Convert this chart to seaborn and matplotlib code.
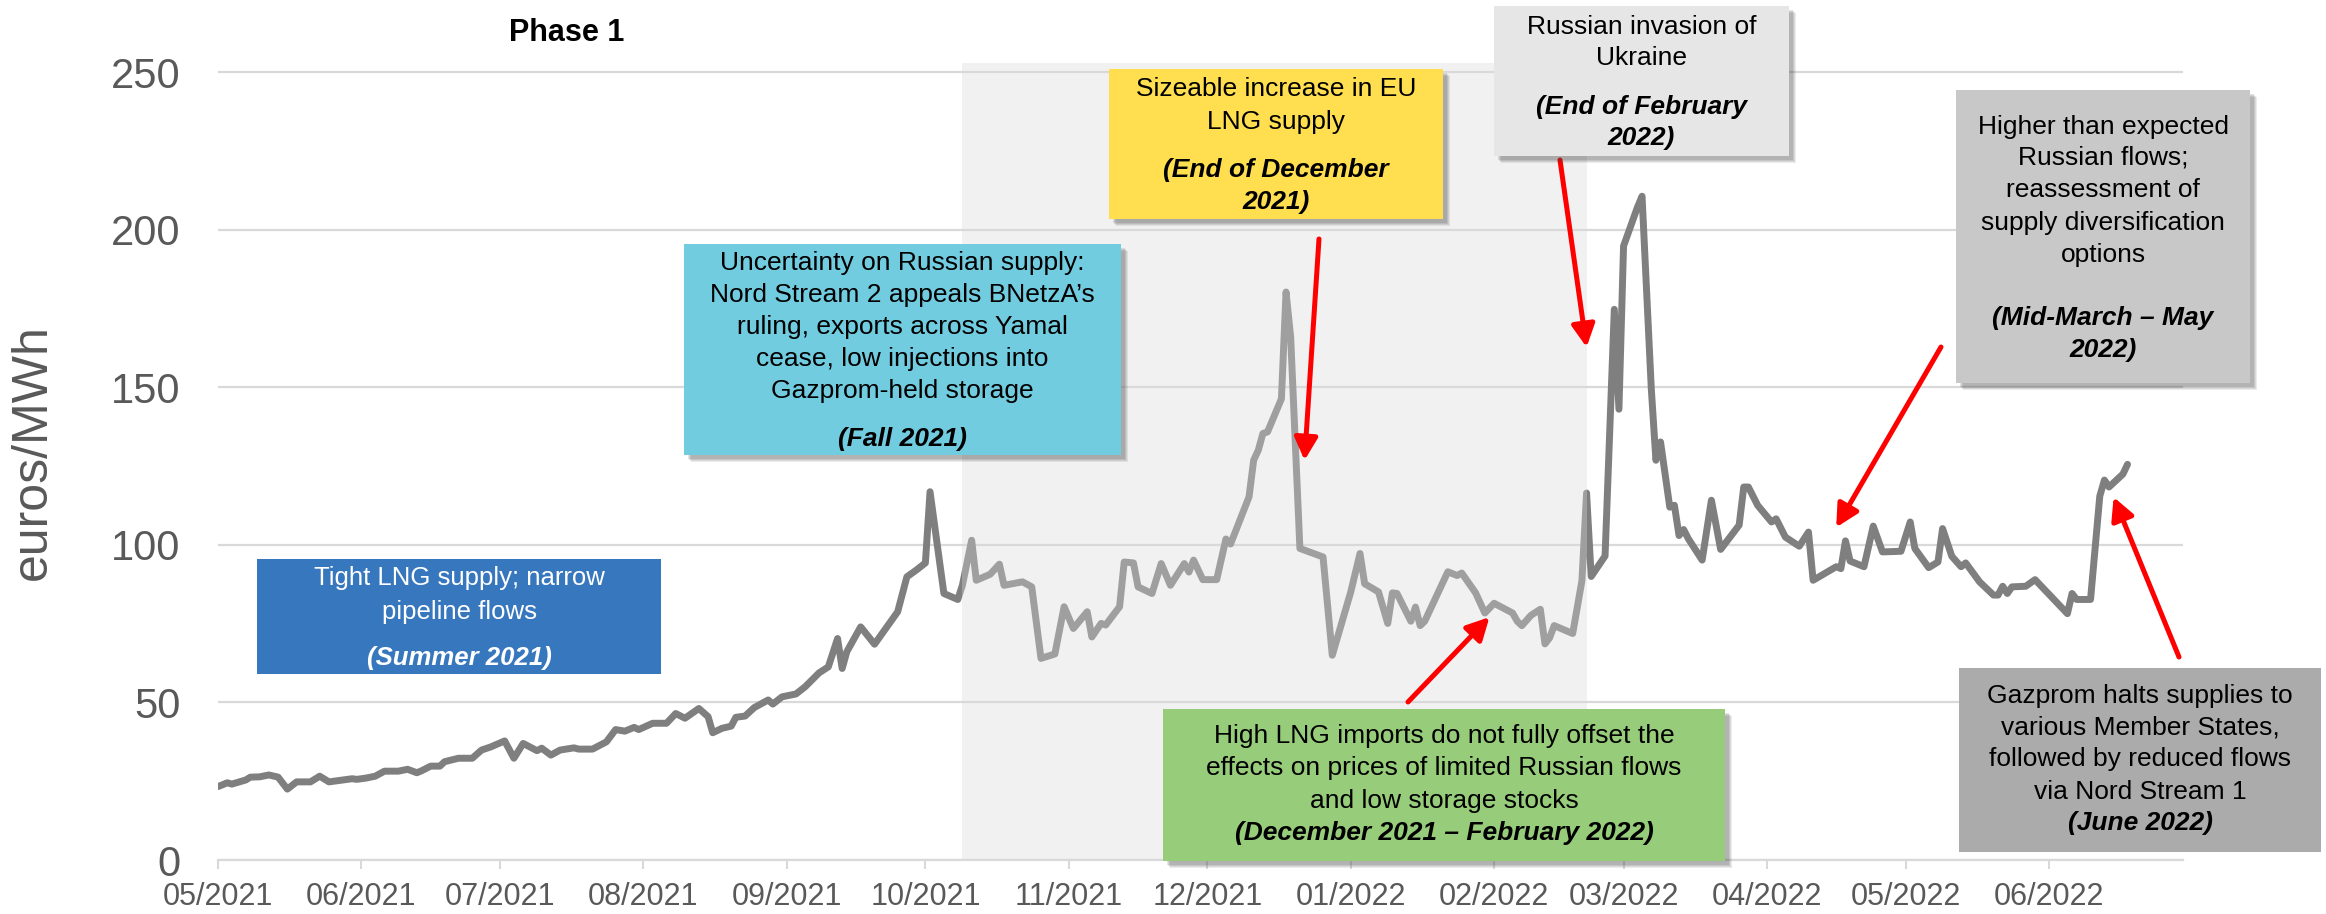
import matplotlib
matplotlib.use("Agg")
import matplotlib.pyplot as plt
import matplotlib.dates as mdates
from matplotlib.patches import Rectangle, ArrowStyle
import seaborn as sns
import pandas as pd

# ---------------- data ----------------
dates = [
    "2021-05-01", "2021-05-03", "2021-05-04", "2021-05-07", "2021-05-08", "2021-05-10", "2021-05-12",
    "2021-05-14", "2021-05-16", "2021-05-18", "2021-05-21", "2021-05-23", "2021-05-25", "2021-05-30",
    "2021-05-31",
    "2021-06-02", "2021-06-04", "2021-06-06", "2021-06-09", "2021-06-11", "2021-06-13", "2021-06-14",
    "2021-06-16", "2021-06-18", "2021-06-19", "2021-06-22", "2021-06-25", "2021-06-27", "2021-06-29",
    "2021-07-02", "2021-07-04", "2021-07-06", "2021-07-09", "2021-07-10", "2021-07-12", "2021-07-14",
    "2021-07-17", "2021-07-18", "2021-07-21", "2021-07-24", "2021-07-26", "2021-07-28", "2021-07-30",
    "2021-07-31",
    "2021-08-03", "2021-08-06", "2021-08-08", "2021-08-10", "2021-08-13", "2021-08-15", "2021-08-16",
    "2021-08-18", "2021-08-20", "2021-08-21", "2021-08-23", "2021-08-25", "2021-08-28", "2021-08-29",
    "2021-08-31",
    "2021-09-03", "2021-09-05", "2021-09-08", "2021-09-10", "2021-09-12", "2021-09-13", "2021-09-14",
    "2021-09-17", "2021-09-20", "2021-09-25", "2021-09-27", "2021-09-29",
    "2021-10-01", "2021-10-02", "2021-10-05", "2021-10-08", "2021-10-09", "2021-10-11", "2021-10-12",
    "2021-10-15", "2021-10-17", "2021-10-18", "2021-10-22", "2021-10-24", "2021-10-26", "2021-10-29",
    "2021-10-31",
    "2021-11-02", "2021-11-05", "2021-11-06", "2021-11-08", "2021-11-09", "2021-11-12", "2021-11-13",
    "2021-11-15", "2021-11-16", "2021-11-19", "2021-11-21", "2021-11-23", "2021-11-26", "2021-11-27",
    "2021-11-28", "2021-11-30",
    "2021-12-03", "2021-12-05", "2021-12-06", "2021-12-10", "2021-12-11", "2021-12-12", "2021-12-13",
    "2021-12-14", "2021-12-17", "2021-12-18", "2021-12-19", "2021-12-21", "2021-12-26", "2021-12-28",
    "2022-01-01", "2022-01-03", "2022-01-04", "2022-01-07", "2022-01-09", "2022-01-10", "2022-01-11",
    "2022-01-14", "2022-01-15", "2022-01-16", "2022-01-17", "2022-01-22", "2022-01-24", "2022-01-25",
    "2022-01-28", "2022-01-30",
    "2022-02-01", "2022-02-05", "2022-02-06", "2022-02-07", "2022-02-09", "2022-02-11", "2022-02-12",
    "2022-02-13", "2022-02-14", "2022-02-18", "2022-02-20", "2022-02-21", "2022-02-22", "2022-02-25",
    "2022-02-27", "2022-02-28",
    "2022-03-01", "2022-03-04", "2022-03-05", "2022-03-07", "2022-03-08", "2022-03-09", "2022-03-11",
    "2022-03-12", "2022-03-13", "2022-03-14", "2022-03-15", "2022-03-18", "2022-03-20", "2022-03-22",
    "2022-03-26", "2022-03-27", "2022-03-28", "2022-03-30",
    "2022-04-02", "2022-04-03", "2022-04-05", "2022-04-08", "2022-04-10", "2022-04-11", "2022-04-16",
    "2022-04-17", "2022-04-18", "2022-04-19", "2022-04-22", "2022-04-24", "2022-04-26", "2022-04-30",
    "2022-05-02", "2022-05-03", "2022-05-06", "2022-05-08", "2022-05-09", "2022-05-11", "2022-05-13",
    "2022-05-14", "2022-05-17", "2022-05-20", "2022-05-21", "2022-05-22", "2022-05-23", "2022-05-24",
    "2022-05-27", "2022-05-29",
    "2022-06-05", "2022-06-06", "2022-06-07", "2022-06-10", "2022-06-12", "2022-06-13", "2022-06-14",
    "2022-06-17", "2022-06-18",
]
price = [
    23.3, 24.5, 24.1, 25.4, 26.3, 26.4, 27.0, 26.3, 22.5, 24.8, 24.8, 26.6, 24.8, 25.8, 25.6,
    26.0, 26.6, 28.2, 28.2, 28.8, 27.7, 28.3, 29.8, 29.8, 31.2, 32.3, 32.3, 34.9, 35.9,
    37.8, 32.3, 37.0, 34.7, 35.5, 33.3, 34.9, 35.6, 35.2, 35.2, 37.5, 41.4, 40.9, 42.1, 41.4,
    43.4, 43.4, 46.5, 45.0, 48.1, 45.5, 40.4, 41.8, 42.5, 45.3, 45.7, 48.4, 50.8, 49.5, 51.8,
    52.7, 55.0, 59.4, 61.3, 70.3, 60.8, 66.1, 74.0, 68.5, 78.8, 89.9, 92.0,
    94.3, 116.9, 84.6, 82.7, 87.2, 101.5, 88.8, 90.7, 93.9, 87.2, 88.3, 86.7, 64.0, 65.4, 80.4,
    73.5, 78.8, 70.8, 75.1, 74.6, 80.4, 94.6, 94.3, 86.7, 84.6, 94.1, 87.2, 94.1, 91.4, 95.2, 89.0,
    89.0, 101.9, 100.3, 115.3, 126.9, 130.1, 135.4, 135.9, 146.4, 180.3, 166.0, 98.9, 96.2, 65.0,
    85.1, 97.3, 87.7, 85.1, 75.1, 84.8, 84.6, 75.8, 80.3, 74.4, 75.8, 91.5, 90.3, 91.1, 84.8, 78.4,
    81.5, 78.4, 75.8, 74.4, 77.7, 79.6, 68.6, 70.5, 74.4, 71.9, 88.7, 116.5, 90.0, 96.5, 174.8, 143.1,
    194.9, 207.2, 210.7, 149.6, 126.9, 132.7, 112.0, 112.6, 103.0, 104.9, 102.0, 95.2, 114.2, 98.6,
    106.3, 118.4, 118.4, 112.6,
    107.3, 108.3, 102.5, 99.6, 104.1, 88.8, 93.1, 92.5, 101.3, 94.9, 93.1, 106.0, 97.8, 98.0,
    107.3, 98.9, 92.8, 94.6, 105.2, 96.4, 93.1, 94.3, 88.3, 84.1, 84.1, 86.9, 84.6, 86.7, 86.9, 89.0,
    78.2, 84.6, 82.7, 82.7, 115.5, 120.6, 118.4, 122.5, 125.6,
]
yticks = [0, 50, 100, 150, 200, 250]
phase1_start, phase1_end = "2021-10-09", "2022-02-21"
x_start, x_end = "2021-05-01", "2022-06-30"

box_texts = {
    "summer": (["Tight LNG supply; narrow", "pipeline flows"], ["(Summer 2021)"]),
    "fall": (["Uncertainty on Russian supply:", "Nord Stream 2 appeals BNetzA\u2019s",
              "ruling, exports across Yamal", "cease, low injections into",
              "Gazprom-held storage"], ["(Fall 2021)"]),
    "dec": (["Sizeable increase in EU", "LNG supply"], ["(End of December", "2021)"]),
    "feb": (["Russian invasion of", "Ukraine"], ["(End of February", "2022)"]),
    "mar": (["Higher than expected", "Russian flows;", "reassessment of",
             "supply diversification", "options"], ["(Mid-March \u2013 May", "2022)"]),
    "lng": (["High LNG imports do not fully offset the", "effects on prices of limited Russian flows",
             "and low storage stocks"], ["(December 2021 \u2013 February 2022)"]),
    "june": (["Gazprom halts supplies to", "various Member States,", "followed by reduced flows",
              "via Nord Stream 1"], ["(June 2022)"]),
}
# arrow tips (date, value)
arrow_tips = {
    "dec": ("2021-12-22", 126.9),
    "feb": ("2022-02-21", 162.8),
    "mar": ("2022-04-16", 105.6),
    "lng": ("2022-01-31", 77.1),
    "june": ("2022-06-15", 115.2),
}

# ---------------- figure ----------------
W, H = 2326, 914
sns.set_style("white")
plt.rcParams["font.family"] = ["Liberation Sans", "DejaVu Sans"]

fig = plt.figure(figsize=(W / 100, H / 100), dpi=100)
ax = fig.add_axes([218 / W, 1 - 860 / H, (2183 - 218) / W, (860 - 63) / H])

df = pd.DataFrame({"date": pd.to_datetime(dates), "price": price})
sns.lineplot(data=df, x="date", y="price", ax=ax, color="#7f7f7f", linewidth=5.0,
             zorder=2, solid_joinstyle="round", solid_capstyle="round")

ax.axvspan(pd.Timestamp(phase1_start), pd.Timestamp(phase1_end), color="#d9d9d9",
           alpha=0.36, lw=0, zorder=3)

ax.set_xlim(pd.Timestamp(x_start), pd.Timestamp(x_end))
ax.set_ylim(0, 253)
ax.set_yticks(yticks)
ax.xaxis.set_major_locator(mdates.MonthLocator())
ax.xaxis.set_major_formatter(mdates.DateFormatter("%m/%Y"))
ax.yaxis.grid(True, color="#d9d9d9", lw=1.6, zorder=0)
ax.xaxis.grid(False)
ax.set_axisbelow(True)
for s in ["top", "right", "left"]:
    ax.spines[s].set_visible(False)
ax.spines["bottom"].set_color("#d9d9d9")
ax.spines["bottom"].set_linewidth(1.6)
ax.tick_params(axis="y", length=0, pad=27, labelsize=30, labelcolor="#595959")
ax.tick_params(axis="x", length=6.5, width=1.5, color="#d9d9d9", pad=9,
               labelsize=22, labelcolor="#595959", bottom=True)
ax.set_xlabel("")
ax.set_ylabel("")

fig.text(33 / W, 1 - 452 / H, "euros/MWh", rotation=90, fontsize=36, color="#595959",
         ha="center", va="center")
fig.text(567 / W, 1 - 33 / H, "Phase 1", fontsize=22, fontweight="bold", color="black",
         ha="center", va="center")


def fx(x):
    return x / W


def fy(y):
    return 1 - y / H


def draw_box(x0, y0, x1, y1, color, shadow=True):
    if shadow:
        for i, a in enumerate([0.10, 0.10, 0.12, 0.14]):
            off = 7 - i
            fig.add_artist(Rectangle((fx(x0 + off), fy(y1 + off)), (x1 - x0) / W, (y1 - y0) / H,
                                     transform=fig.transFigure, facecolor="#404040", alpha=a,
                                     lw=0, zorder=9))
    fig.add_artist(Rectangle((fx(x0), fy(y1)), (x1 - x0) / W, (y1 - y0) / H,
                             transform=fig.transFigure, facecolor=color, lw=0, zorder=10))


def draw_lines(cx, ys, lines, bold_lines, color="black", size=19):
    allt = [(t, False) for t in lines] + [(t, True) for t in bold_lines]
    for (t, b), y in zip(allt, ys):
        fig.text(fx(cx), fy(y), t, ha="center", va="center", fontsize=size, color=color,
                 fontweight="bold" if b else "normal", fontstyle="italic" if b else "normal",
                 zorder=11)


boxes = {
    "summer": ((257, 559, 661, 674), "#3777be", False, [578, 612, 658], "white", 18.5),
    "fall": ((684, 244, 1121, 455), "#72cce0", True, [263, 295, 327, 359, 391, 439], "black", 19),
    "dec": ((1109, 69, 1443, 219), "#ffdf50", True, [89, 122, 170, 202], "black", 19),
    "feb": ((1494, 6, 1789, 156), "#e6e6e6", True, [27, 58, 107, 138], "black", 19),
    "mar": ((1956, 90, 2250, 383), "#c8c8c8", True, [127, 158, 190, 223, 255, 318, 350], "black", 19),
    "lng": ((1163, 709, 1725, 861), "#97cc7a", True, [736, 768, 801, 833], "black", 19),
    "june": ((1959, 668, 2321, 852), "#ababab", False, [696, 727, 759, 792, 823], "black", 19),
}
for key, (rect, col, sh, ys, tcol, size) in boxes.items():
    x0, y0, x1, y1 = rect
    draw_box(x0, y0, x1, y1, col, sh)
    lines, bl = box_texts[key]
    draw_lines((x0 + x1) / 2, ys, lines, bl, tcol, size)

arrow_tails = {"dec": (1319, 239), "feb": (1560, 160), "mar": (1941, 347),
               "lng": (1408, 702), "june": (2179, 657)}
style = ArrowStyle("-|>", head_length=1.35, head_width=0.7)
for key, (tx, ty) in arrow_tails.items():
    d, v = arrow_tips[key]
    ax.annotate("", xy=(mdates.date2num(pd.Timestamp(d)), v), xycoords="data",
                xytext=(tx, H - ty), textcoords="figure pixels",
                arrowprops=dict(arrowstyle=style, color="#ff0000", lw=3.6, shrinkA=0, shrinkB=0,
                                mutation_scale=10),
                annotation_clip=False, zorder=6)

fig.savefig("out.png", dpi=100)
